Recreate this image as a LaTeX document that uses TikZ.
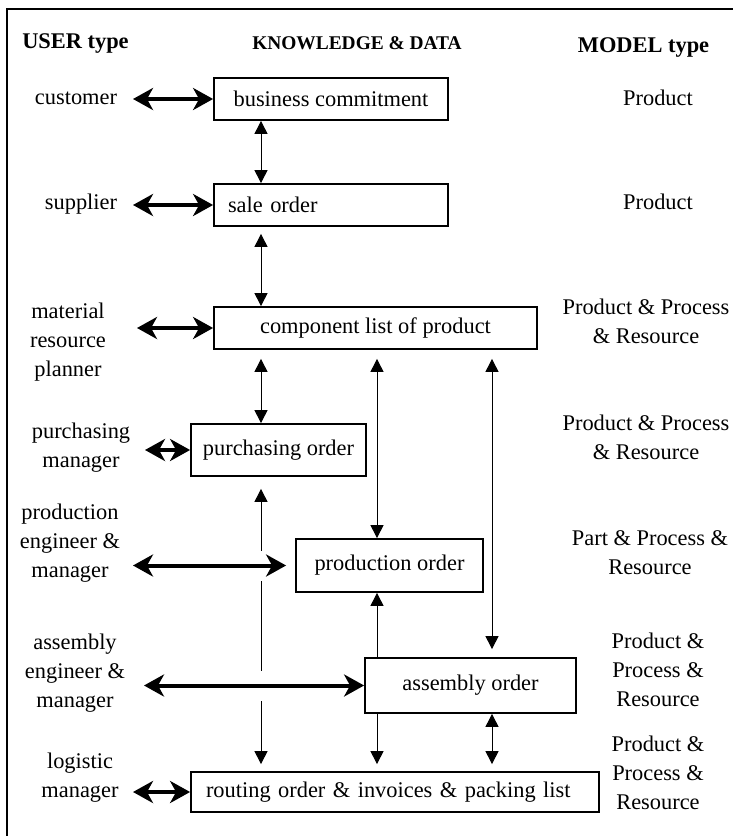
\documentclass[tikz,border=0pt]{standalone}
\usepackage{fontspec}
\setmainfont{Liberation Serif}
\usetikzlibrary{arrows.meta,positioning}

\newcommand{\lblfont}{\fontsize{11.2pt}{14.5pt}\selectfont}

\begin{document}
\begin{tikzpicture}[x=0.5pt,y=-0.5pt,
  >={Triangle[length=6.5pt,width=6.5pt]},
  box/.style={draw, line width=0.9pt, inner sep=0pt, font=\lblfont},
  usr/.style={align=center, font=\lblfont, inner sep=0pt},
  mdl/.style={align=center, font=\lblfont, inner sep=0pt},
  head/.style={font=\lblfont\bfseries, inner sep=0pt},
  link/.style={line width=0.5pt},
  userlink/.style={line width=2pt,
    {Stealth[length=10pt,width=11pt,inset=3pt]}-{Stealth[length=10pt,width=11pt,inset=3pt]},
    preaction={draw=white, -, line width=15pt, shorten >=6pt}}]
\useasboundingbox (0,0) rectangle (733,836);
% frame
\draw[line width=1pt] (733,9) -- (7,9) -- (7,836);
% column headings
\node[head] (huser) at (75.5,43) {USER type};
\node[head, font=\fontsize{9.7pt}{12pt}\selectfont\bfseries] (hdata) at (357,43) {KNOWLEDGE \& DATA};
\node[head] (hmodel) at (643.5,47) {MODEL type};
% knowledge & data boxes
\node[box, minimum width=117pt, minimum height=21pt] (bizcommit) at (331,99) {business commitment};
\node[box, minimum width=117pt, minimum height=21pt, text width=103pt, inner xsep=7pt, align=left] (saleorder) at (331,205) {sale order};
\node[box, minimum width=161.5pt, minimum height=21pt] (complist) at (375.5,328) {component list of product};
\node[box, minimum width=87.5pt, minimum height=26pt] (purchorder) at (278.5,450) {purchasing order};
\node[box, minimum width=93.5pt, minimum height=26.5pt] (prodorder) at (389.5,565.5) {production order};
\node[box, minimum width=105.5pt, minimum height=27.5pt] (assyorder) at (470.5,685.5) {assembly order};
\node[box, minimum width=204pt, minimum height=20pt, text width=189pt, inner xsep=7.5pt, align=left] (routing) at (395,792) {routing order \& invoices \& packing list};
% user types
\node[usr] (ucust) at (76,98) {customer};
\node[usr] (usupp) at (81,204) {supplier};
\node[usr] (uplan) at (68,342) {material\\resource\\planner};
\node[usr] (upurch) at (81,448) {purchasing\\manager};
\node[usr] (uprod) at (70,543.5) {production\\engineer \&\\manager};
\node[usr] (uassy) at (75,673.5) {assembly\\engineer \&\\manager};
\node[usr] (ulogi) at (80,778) {logistic\\manager};
% model types
\node[mdl] (mbiz) at (658,98) {Product};
\node[mdl] (msale) at (658,202) {Product};
\node[mdl] (mcomp) at (646,321) {Product \& Process\\\& Resource};
\node[mdl] (mpurch) at (646,437.5) {Product \& Process\\\& Resource};
\node[mdl] (mprod) at (650,553) {Part \& Process \&\\Resource};
\node[mdl] (massy) at (658,670) {Product \&\\Process \&\\Resource};
\node[mdl] (mrout) at (658,772.5) {Product \&\\Process \&\\Resource};
% columns of the vertical links
\coordinate (colA) at (261,0);
\coordinate (colB) at (377,0);
\coordinate (colC) at (492,0);
% data links
\draw[link,<->] (bizcommit.south -| colA) -- (saleorder.north -| colA);
\draw[link,<->,shorten <=3.5pt] (saleorder.south -| colA) -- (complist.north -| colA);
\draw[link,<->,shorten <=4.5pt] (complist.south -| colA) -- (purchorder.north -| colA);
\draw[link,<->,shorten <=4.5pt] (complist.south -| colB) -- (prodorder.north -| colB);
\draw[link,<->,shorten <=4.5pt,shorten >=4pt] (complist.south -| colC) -- (assyorder.north -| colC);
\draw[link,<->,shorten <=6pt,shorten >=3.5pt] (purchorder.south -| colA) -- (routing.north -| colA);
\draw[link,->] (assyorder.north -| colB) -- (prodorder.south -| colB);
\draw[link,->,shorten >=3.5pt] (assyorder.south -| colB) -- (routing.north -| colB);
\draw[link,<->,shorten >=3.5pt] (assyorder.south -| colC) -- (routing.north -| colC);
% user links
\foreach \b/\x/\s in {bizcommit/133/0, saleorder/133/0, complist/137/0, purchorder/145/0,
                      prodorder/133/4.5, assyorder/144/0, routing/133/0}
  \draw[userlink, shorten >=\s pt] (\b.west -| \x,0) -- (\b.west);
\end{tikzpicture}
\end{document}
